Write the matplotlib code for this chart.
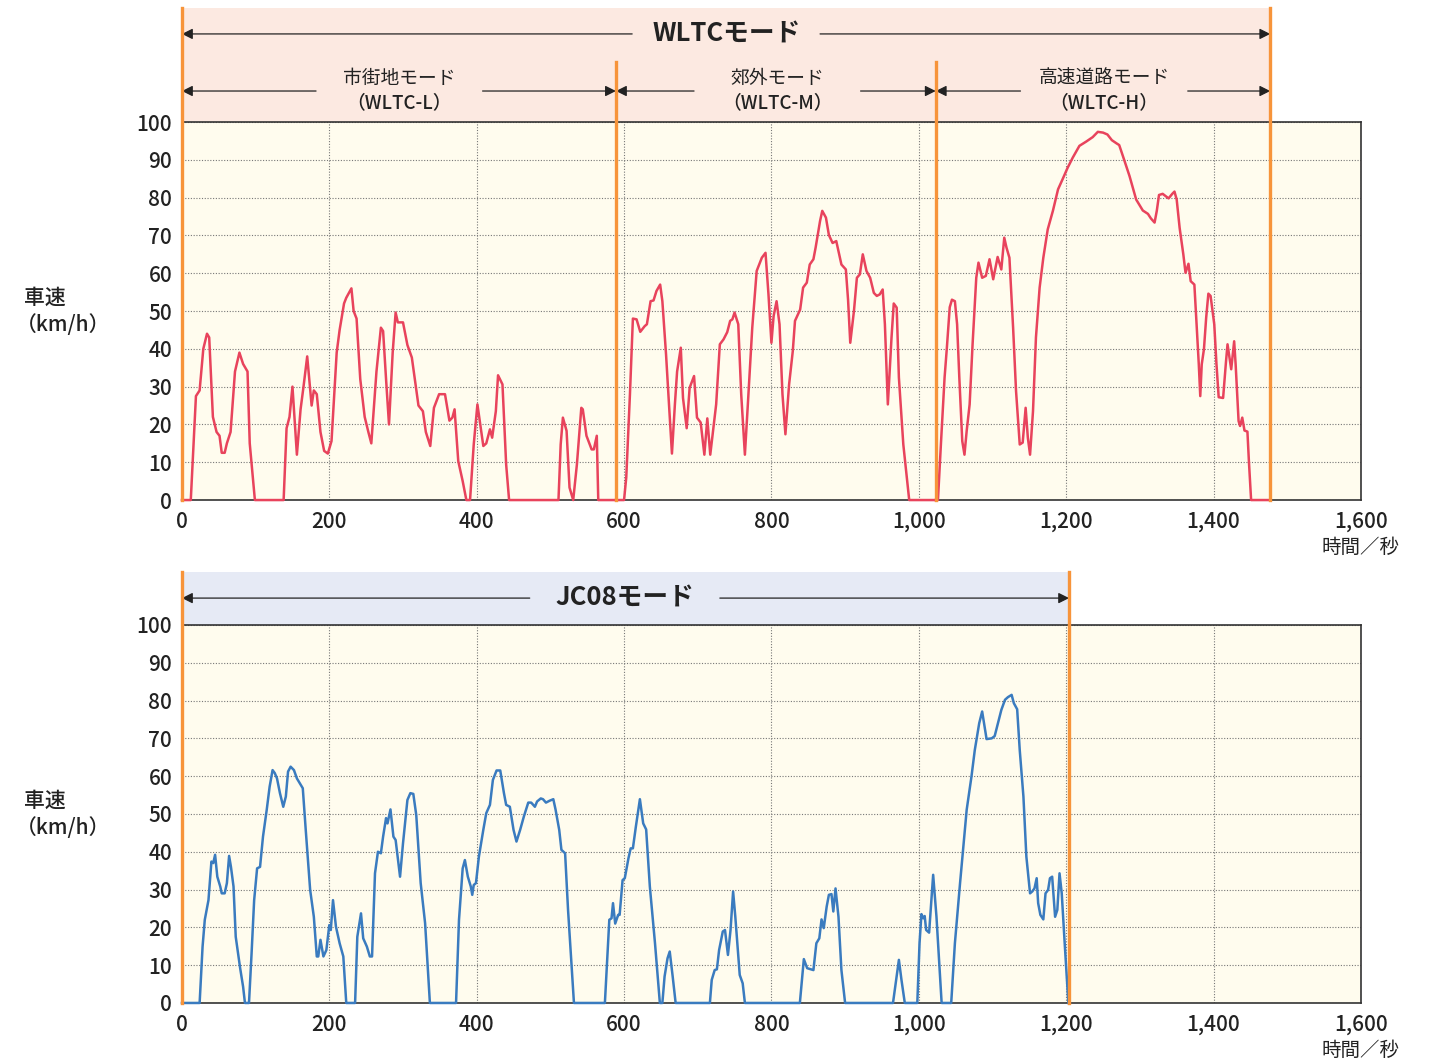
import matplotlib
matplotlib.use("Agg")
import matplotlib.pyplot as plt
from matplotlib.patches import Rectangle

plt.rcParams["font.family"] = ["Noto Sans CJK JP", "DejaVu Sans"]

# ── Data (time in s, speed in km/h) ────────────────────────────────────────────
wltc_low_t = [0, 12, 19, 24, 29, 34, 37, 42, 47, 51, 54, 58, 61, 66, 72, 78, 83, 89, 92, 99,
              138, 142, 146, 150, 156, 161, 165, 170, 176, 179, 183, 188, 193, 198, 203, 210,
              214, 220, 223, 230, 233, 237, 242, 248, 253, 257, 264, 270, 273, 277, 281, 286,
              290, 293, 300, 306, 312, 321, 327, 331, 337, 342, 349, 357, 363, 367, 370, 375,
              381, 386, 391, 396, 401, 409, 413, 418, 421, 426, 429, 435, 440, 444, 511, 514,
              517, 522, 526, 531, 536, 542, 544, 549, 556, 559, 563, 565, 589]
wltc_low_v = [0, 0, 27.5, 29, 40, 44, 43, 22, 18, 17, 12.5, 12.5, 15, 18, 34, 39, 36, 34, 15, 0,
              0, 19, 22, 30, 12, 24, 30, 38, 25, 29, 28, 18, 13, 12.3, 15.6, 39,
              45, 52, 53.5, 56, 50, 48, 32, 22, 18, 15, 34, 45.6, 44.7, 32, 20, 39,
              49.6, 47, 47, 41, 37.7, 25, 23.5, 18, 14.3, 24.4, 28, 28, 21, 21.8, 24, 10.3,
              5, 0, 0, 14.7, 25.3, 14.3, 15, 18.7, 16.5, 23.5, 33, 30.6, 9.4, 0, 0, 14.7,
              21.8, 18.3, 3.3, 0, 9.4, 24.4, 24, 17, 13.4, 13.4, 17, 0, 0]

wltc_mid_t = [589, 600, 603, 608, 612, 617, 622, 628, 631, 636, 640, 644, 649, 652, 657, 661,
              665, 669, 672, 677, 680, 685, 689, 695, 699, 704, 709, 713, 717, 725, 730, 735,
              740, 744, 747, 750, 755, 759, 764, 768, 774, 780, 787, 792, 796, 800, 803, 807,
              811, 815, 819, 824, 829, 832, 839, 843, 848, 852, 857, 860, 866, 869, 874, 878,
              883, 888, 895, 901, 904, 907, 912, 916, 920, 924, 929, 934, 939, 943, 947, 951,
              954, 958, 963, 966, 970, 973, 979, 987, 1023]
wltc_mid_v = [0, 0, 6, 28, 48, 47.8, 44.5, 46, 46.5, 52.6, 52.8, 55.3, 57, 52.6, 38.5, 25.3,
              12.3, 25.3, 34, 40.3, 27, 19, 29.7, 32.8, 21.8, 20.5, 12, 21.6, 12, 25.3, 41.2, 42.5,
              44.4, 47.4, 47.8, 49.6, 46.5, 28, 12, 25.3, 45.6, 60.6, 64.1, 65.4, 54.4, 41.6, 48.7, 52.6,
              46.5, 28, 17.4, 30.6, 39.4, 47.4, 50.4, 56.2, 57.5, 62.3, 63.7, 66.8, 73.8, 76.5, 74.7, 70.1,
              68, 68.5, 62.3, 61, 53, 41.6, 50, 58.8, 59.7, 65, 60.6, 58.8, 54.8, 54, 54.4, 55.7,
              46.5, 25.3, 43, 52, 50.9, 32.4, 14.7, 0, 0]

wltc_high_t = [1023, 1026, 1030, 1035, 1038, 1042, 1045, 1049, 1052, 1055, 1059, 1062, 1065,
               1069, 1073, 1078, 1081, 1086, 1091, 1096, 1101, 1107, 1112, 1116, 1119, 1123,
               1128, 1132, 1137, 1141, 1145, 1148, 1151, 1155, 1159, 1164, 1169, 1175, 1182,
               1189, 1195, 1202, 1209, 1218, 1227, 1236, 1243, 1250, 1256, 1262, 1268, 1272,
               1277, 1286, 1295, 1304, 1311, 1315, 1320, 1323, 1326, 1331, 1339, 1344, 1347,
               1350, 1354, 1359, 1362, 1366, 1369, 1374, 1377, 1380, 1382, 1384, 1387, 1390,
               1393, 1396, 1401, 1404, 1407, 1413, 1417, 1419, 1424, 1428, 1430, 1434, 1436,
               1439, 1442, 1446, 1448, 1451, 1477]
wltc_high_v = [0, 0, 14.7, 32.4, 40, 51, 53, 52.6, 46.5, 32.4, 15.6, 12, 18.3,
               25.3, 41.2, 58.8, 62.8, 58.8, 59.3, 63.7, 58.4, 64.3, 61, 69.4, 66.8, 64.1,
               45.6, 28.8, 14.7, 15.2, 24.4, 16.5, 12, 23.5, 43, 56.2, 64.1, 71.6, 76.5,
               82.2, 84.8, 87.9, 90.6, 93.7, 94.8, 96, 97.4, 97.2, 96.7, 95.2, 94.4, 93.9,
               91, 85.7, 79.5, 76.6, 75.7, 74.5, 73.4, 76.5, 80.7, 81, 79.8, 81, 81.6,
               79.5, 72, 65, 60.1, 62.5, 57.9, 57, 46.5, 35.9, 27.5, 35.9, 39.9, 48.2,
               54.6, 54, 46.5, 35.9, 27.2, 27, 36.8, 41.2, 34.6, 42, 35.9, 20.9, 19.6,
               21.8, 18.4, 18.1, 10.3, 0, 0]

jc08_t = [0, 24, 28, 31, 36, 40, 42.5, 45, 48, 52, 54, 58, 61, 64, 66.5, 70, 73, 79, 83, 85.5,
          91, 94.5, 98, 102, 106, 110, 115, 119, 123, 126, 129, 133, 137.5, 141, 144, 147.5,
          152, 156, 160, 164, 168, 174, 179, 183, 185, 188, 192, 196, 200, 202, 205, 209, 214,
          219, 223, 235, 238, 243, 246, 251, 255, 258, 262, 266, 270, 273, 277, 279, 283, 287,
          290, 296, 300, 306, 310, 314, 318, 324, 330, 336.5, 372, 376, 381, 384, 388, 392,
          394, 396, 399, 403, 409, 413, 418, 422, 427, 432, 437, 440, 445, 450, 454, 459, 464,
          470, 474, 479, 482, 487, 490, 494, 499, 504, 507, 512, 515, 520, 524, 532, 574, 580,
          583, 585, 588, 592, 594, 598, 601, 606, 609, 612, 616, 621.5, 626, 630, 635, 642,
          648.6, 652, 655, 659, 662, 666, 670, 716.5, 719, 723, 726, 729, 734, 737, 741, 744.5,
          748, 751, 757, 761, 764, 838.6, 844, 848.5, 857, 861, 865, 868, 871, 875, 878, 881.5,
          884, 887, 891, 895, 900, 965, 970, 973, 976.5, 981, 998, 1001, 1003.6, 1006, 1008,
          1010, 1014, 1019.5, 1024, 1031, 1044, 1049, 1056, 1065, 1071.5, 1076, 1082, 1086,
          1092, 1099, 1103, 1108, 1112, 1117, 1121, 1126, 1129, 1133.5, 1137, 1142, 1146,
          1151, 1154, 1157, 1160, 1162, 1165, 1169, 1172, 1175.5, 1178, 1181, 1185, 1188,
          1191, 1194, 1198, 1203]
jc08_v = [0, 0, 14.9, 22, 27.2, 37.4, 37, 39.2, 33.4, 30.8, 29, 29, 31.7, 38.9, 36, 30.8, 17.5, 9.2, 4.3, 0,
          0, 13.1, 27.2, 35.6, 36, 44, 51, 57.2, 61.6, 60.8, 59.4, 55.5, 51.9, 54.6, 61.2, 62.5,
          61.6, 59.4, 58.1, 56.8, 45.8, 29.9, 22.8, 12.3, 12.3, 16.7, 12.3, 14, 20.6, 19.3, 27.2, 20.2, 15.8,
          12.3, 0, 0, 17.5, 23.7, 17.1, 14.9, 12.3, 12.3, 34.3, 40, 39.6, 44, 48.9, 47.5, 51.2, 44,
          43.1, 33.4, 42.2, 53.7, 55.5, 55.3, 49.7, 31.7, 21.1, 0, 0, 22, 35.6, 37.8, 33.4, 30.8,
          28.6, 31.2, 31.7, 38.7, 45.8, 50.2, 52.4, 59, 61.5, 61.5, 55.5, 52.4, 51.9, 45.8, 42.7, 45.8, 49.3,
          53, 53, 51.9, 53.3, 54.1, 53.9, 53, 53.5, 53.9, 51.2, 45.8, 40.5, 39.6, 24.6, 0, 0, 22,
          22.4, 26.4, 21, 23.3, 23.3, 32.5, 33, 38.3, 40.9, 40.9, 46.6, 53.9, 47.5, 45.9, 30.8, 15.8,
          0, 0, 7, 11.8, 13.6, 7, 0, 0, 6.1, 8.7, 8.9, 14, 18.9, 19.3, 12.7, 19.3,
          29.5, 22.8, 7.4, 5.2, 0, 0, 11.6, 9.2, 8.7, 15.8, 17.1, 22.1, 19.8, 25.5, 28.6, 28.8,
          24.2, 30.3, 22.8, 8.7, 0, 0, 7, 11.4, 6.1, 0, 0, 15.8, 23.5, 22.4, 23,
          19.3, 18.6, 33.9, 22.8, 0, 0, 15.8, 31.7, 51.1, 59.9, 66.9, 74, 77.1,
          69.8, 70, 70.6, 74.4, 77.5, 80.2, 80.9, 81.5, 79.3, 77.7, 66.9, 54.6, 38.7,
          29, 29.5, 30.3, 33, 26.4, 23.3, 22.1, 29, 29.9, 33, 33.4, 22.8, 24.6,
          34.3, 29, 15.8, 0]

wltc_bounds = [0, 589, 1023, 1477]
wltc_phase_names = ["市街地モード", "郊外モード", "高速道路モード"]
wltc_phase_codes = ["（WLTC-L）", "（WLTC-M）", "（WLTC-H）"]
jc08_end = 1204

x_ticks = [0, 200, 400, 600, 800, 1000, 1200, 1400, 1600]
x_labels = ["0", "200", "400", "600", "800", "1,000", "1,200", "1,400", "1,600"]
y_ticks = list(range(0, 101, 10))

# ── Style ──────────────────────────────────────────────────────────────────────
BG = "#fffcee"
ORANGE = "#f7943a"
RED = "#e8435c"
BLUE = "#3a7bbf"
PINK_BAND = "#fce9e1"
BLUE_BAND = "#e6eaf5"
TXT = "#222222"


def style_axes(ax):
    ax.set_facecolor(BG)
    ax.set_xlim(0, 1600)
    ax.set_ylim(0, 100)
    ax.set_xticks(x_ticks)
    ax.set_xticklabels(x_labels)
    ax.set_yticks(y_ticks)
    ax.tick_params(length=0, labelsize=15, colors=TXT, pad=8)
    ax.tick_params(axis="y", pad=7)
    for lab in ax.get_xticklabels() + ax.get_yticklabels():
        lab.set_fontweight("medium")
    ax.grid(True, color="#777777", ls=(0, (1, 1.5)), lw=0.8)
    for s in ax.spines.values():
        s.set_color("#333333")
        s.set_linewidth(1.2)
    ax.text(-214, 53.5, "車速", fontsize=15, color=TXT, ha="left", va="center",
            fontweight="medium")
    ax.text(-225, 46.2, "（km/h）", fontsize=15, color=TXT, ha="left", va="center",
            fontweight="medium")
    ax.text(1600, -12.5, "時間／秒", fontsize=14, color=TXT, ha="center", va="center")


def span_arrow(ax, x0, x1, y, tx0, tx1):
    """Two arrows pointing outwards from a centred label gap."""
    props = dict(arrowstyle="-|>", color=TXT, lw=0.9, mutation_scale=16,
                 shrinkA=0, shrinkB=0)
    ax.annotate("", xy=(x0, y), xytext=(tx0, y), arrowprops=props, annotation_clip=False)
    ax.annotate("", xy=(x1, y), xytext=(tx1, y), arrowprops=props, annotation_clip=False)


fig = plt.figure(figsize=(14.36, 10.61), dpi=100)
ax1 = fig.add_axes([0.1267, 0.5287, 0.8210, 0.3563])
ax2 = fig.add_axes([0.1267, 0.0547, 0.8210, 0.3563])

# ── WLTC ───────────────────────────────────────────────────────────────────────
style_axes(ax1)
ax1.add_patch(Rectangle((0, 100), wltc_bounds[-1], 30.2, facecolor=PINK_BAND,
                        edgecolor="none", clip_on=False, zorder=0))
for t, v in [(wltc_low_t, wltc_low_v), (wltc_mid_t, wltc_mid_v), (wltc_high_t, wltc_high_v)]:
    ax1.plot(t, v, color=RED, lw=1.8, clip_on=False, zorder=4, solid_joinstyle="round")
for i, b in enumerate(wltc_bounds):
    top = 130.2 if i in (0, len(wltc_bounds) - 1) else 115.9
    ax1.plot([b, b], [0, top], color=ORANGE, lw=2.4, clip_on=False, zorder=5)

span_arrow(ax1, 0, wltc_bounds[-1], 123.3, 611, 866)
ax1.text(739, 123.3, "WLTCモード", fontsize=18.5, fontweight="bold", color=TXT,
         ha="center", va="center")
gaps = [(182, 408), (695, 921), (1138, 1365)]
for (a, b), (g0, g1), name, code in zip(zip(wltc_bounds[:-1], wltc_bounds[1:]), gaps,
                                        wltc_phase_names, wltc_phase_codes):
    span_arrow(ax1, a, b, 108.2, g0, g1)
    ax1.text((g0 + g1) / 2, 111.6, name, fontsize=13.5, color=TXT, ha="center", va="center")
    ax1.text((g0 + g1) / 2, 105.0, code, fontsize=13.5, color=TXT, ha="center",
             va="center", fontweight="medium")

# ── JC08 ───────────────────────────────────────────────────────────────────────
style_axes(ax2)
ax2.add_patch(Rectangle((0, 100), jc08_end, 14.0, facecolor=BLUE_BAND,
                        edgecolor="none", clip_on=False, zorder=0))
ax2.plot(jc08_t, jc08_v, color=BLUE, lw=1.8, clip_on=False, zorder=4, solid_joinstyle="round")
for b in (0, jc08_end):
    ax2.plot([b, b], [0, 114.0], color=ORANGE, lw=2.4, clip_on=False, zorder=5)
span_arrow(ax2, 0, jc08_end, 107.1, 472, 730)
ax2.text(601, 107.1, "JC08モード", fontsize=18.5, fontweight="bold", color=TXT,
         ha="center", va="center")

fig.savefig("out.png", dpi=100, facecolor="white")
